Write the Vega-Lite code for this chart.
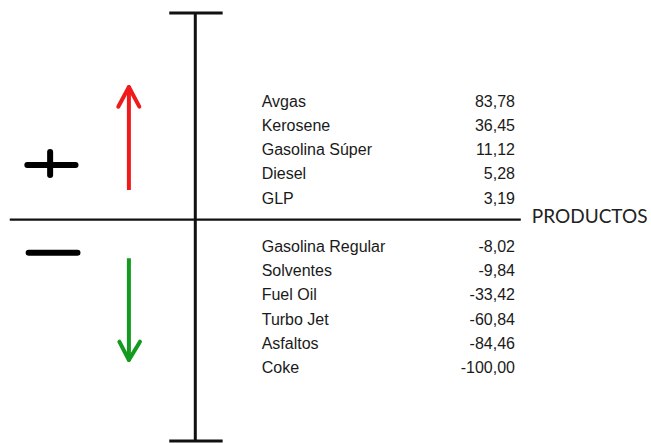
{
  "$schema": "https://vega.github.io/schema/vega-lite/v6.json",
  "width": 651,
  "height": 443,
  "autosize": {"type": "fit", "contains": "padding"},
  "padding": 0,
  "background": "white",
  "config": {
    "view": {"stroke": null},
    "locale": {"number": {"decimal": ",", "thousands": ".", "grouping": [3], "currency": ["", ""], "minus": "-"}}
  },
  "datasets": {
    "productos": [
      {"producto": "Avgas", "valor": 83.78, "fila": 0},
      {"producto": "Kerosene", "valor": 36.45, "fila": 1},
      {"producto": "Gasolina Súper", "valor": 11.12, "fila": 2},
      {"producto": "Diesel", "valor": 5.28, "fila": 3},
      {"producto": "GLP", "valor": 3.19, "fila": 4},
      {"producto": "Gasolina Regular", "valor": -8.02, "fila": 6},
      {"producto": "Solventes", "valor": -9.84, "fila": 7},
      {"producto": "Fuel Oil", "valor": -33.42, "fila": 8},
      {"producto": "Turbo Jet", "valor": -60.84, "fila": 9},
      {"producto": "Asfaltos", "valor": -84.46, "fila": 10},
      {"producto": "Coke", "valor": -100.0, "fila": 11}
    ],
    "uno": [{}]
  },
  "layer": [
    {
      "data": {"name": "uno"},
      "mark": {"type": "rule", "color": "#111111", "strokeWidth": 3},
      "encoding": {
        "x": {"datum": 30, "type": "quantitative", "scale": {"domain": [0, 100], "nice": false, "zero": false}, "axis": null},
        "y": {"datum": -3.663, "type": "quantitative", "scale": {"domain": [-4.2, 14.1], "reverse": true, "nice": false, "zero": false}, "axis": null},
        "y2": {"datum": 14.015}
      }
    },
    {
      "data": {"name": "uno"},
      "mark": {"type": "rule", "color": "#111111", "strokeWidth": 3},
      "encoding": {
        "x": {"datum": 26, "type": "quantitative", "axis": null},
        "x2": {"datum": 34.2},
        "y": {"datum": -3.663, "type": "quantitative", "axis": null}
      }
    },
    {
      "data": {"name": "uno"},
      "mark": {"type": "rule", "color": "#111111", "strokeWidth": 3},
      "encoding": {
        "x": {"datum": 26, "type": "quantitative", "axis": null},
        "x2": {"datum": 34.2},
        "y": {"datum": 14.015, "type": "quantitative", "axis": null}
      }
    },
    {
      "data": {"name": "uno"},
      "mark": {"type": "rule", "color": "#111111", "strokeWidth": 2.2},
      "encoding": {
        "x": {"datum": 1.5, "type": "quantitative", "axis": null},
        "x2": {"datum": 80},
        "y": {"datum": 4.87, "type": "quantitative", "axis": null}
      }
    },
    {
      "data": {"name": "uno"},
      "mark": {"type": "rule", "color": "#000000", "strokeWidth": 6, "strokeCap": "round"},
      "encoding": {
        "x": {"datum": 4.2, "type": "quantitative", "axis": null},
        "x2": {"datum": 11.6},
        "y": {"datum": 2.615, "type": "quantitative", "axis": null}
      }
    },
    {
      "data": {"name": "uno"},
      "mark": {"type": "rule", "color": "#000000", "strokeWidth": 6, "strokeCap": "round"},
      "encoding": {
        "x": {"datum": 7.7, "type": "quantitative", "axis": null},
        "y": {"datum": 2.08, "type": "quantitative", "axis": null},
        "y2": {"datum": 3.03}
      }
    },
    {
      "data": {"name": "uno"},
      "mark": {"type": "rule", "color": "#000000", "strokeWidth": 6, "strokeCap": "round"},
      "encoding": {
        "x": {"datum": 4.4, "type": "quantitative", "axis": null},
        "x2": {"datum": 11.9},
        "y": {"datum": 6.238, "type": "quantitative", "axis": null}
      }
    },
    {
      "data": {"name": "uno"},
      "mark": {"type": "rule", "color": "#f01a1a", "strokeWidth": 4},
      "encoding": {
        "x": {"datum": 19.8, "type": "quantitative", "axis": null},
        "y": {"datum": 3.648, "type": "quantitative", "axis": null},
        "y2": {"datum": -0.55}
      }
    },
    {
      "data": {"name": "uno"},
      "mark": {"type": "rule", "color": "#f01a1a", "strokeWidth": 4, "strokeCap": "round"},
      "encoding": {
        "x": {"datum": 18.17, "type": "quantitative", "axis": null},
        "x2": {"datum": 19.8},
        "y": {"datum": 0.207, "type": "quantitative", "axis": null},
        "y2": {"datum": -0.606}
      }
    },
    {
      "data": {"name": "uno"},
      "mark": {"type": "rule", "color": "#f01a1a", "strokeWidth": 4, "strokeCap": "round"},
      "encoding": {
        "x": {"datum": 21.4, "type": "quantitative", "axis": null},
        "x2": {"datum": 19.8},
        "y": {"datum": 0.207, "type": "quantitative", "axis": null},
        "y2": {"datum": -0.606}
      }
    },
    {
      "data": {"name": "uno"},
      "mark": {"type": "rule", "color": "#139a1f", "strokeWidth": 4},
      "encoding": {
        "x": {"datum": 19.8, "type": "quantitative", "axis": null},
        "y": {"datum": 6.469, "type": "quantitative", "axis": null},
        "y2": {"datum": 10.6}
      }
    },
    {
      "data": {"name": "uno"},
      "mark": {"type": "rule", "color": "#139a1f", "strokeWidth": 4, "strokeCap": "round"},
      "encoding": {
        "x": {"datum": 18.33, "type": "quantitative", "axis": null},
        "x2": {"datum": 19.8},
        "y": {"datum": 9.914, "type": "quantitative", "axis": null},
        "y2": {"datum": 10.67}
      }
    },
    {
      "data": {"name": "uno"},
      "mark": {"type": "rule", "color": "#139a1f", "strokeWidth": 4, "strokeCap": "round"},
      "encoding": {
        "x": {"datum": 21.5, "type": "quantitative", "axis": null},
        "x2": {"datum": 19.8},
        "y": {"datum": 9.914, "type": "quantitative", "axis": null},
        "y2": {"datum": 10.67}
      }
    },
    {
      "data": {"name": "uno"},
      "mark": {"type": "text", "font": "Lato", "fontSize": 19, "color": "#222222", "align": "left", "baseline": "middle"},
      "encoding": {
        "x": {"datum": 81.7, "type": "quantitative", "axis": null},
        "y": {"datum": 4.76, "type": "quantitative", "axis": null},
        "text": {"value": "PRODUCTOS"}
      }
    },
    {
      "data": {"name": "productos"},
      "mark": {"type": "text", "font": "Liberation Sans", "fontSize": 16, "color": "#1a1a1a", "align": "left", "baseline": "middle"},
      "encoding": {
        "x": {"datum": 40.2, "type": "quantitative", "axis": null},
        "y": {"field": "fila", "type": "quantitative", "axis": null},
        "text": {"field": "producto"}
      }
    },
    {
      "data": {"name": "productos"},
      "mark": {"type": "text", "font": "Liberation Sans", "fontSize": 16, "color": "#1a1a1a", "align": "right", "baseline": "middle"},
      "encoding": {
        "x": {"datum": 79.1, "type": "quantitative", "axis": null},
        "y": {"field": "fila", "type": "quantitative", "axis": null},
        "text": {"field": "valor", "type": "quantitative", "format": ".2f"}
      }
    }
  ]
}
